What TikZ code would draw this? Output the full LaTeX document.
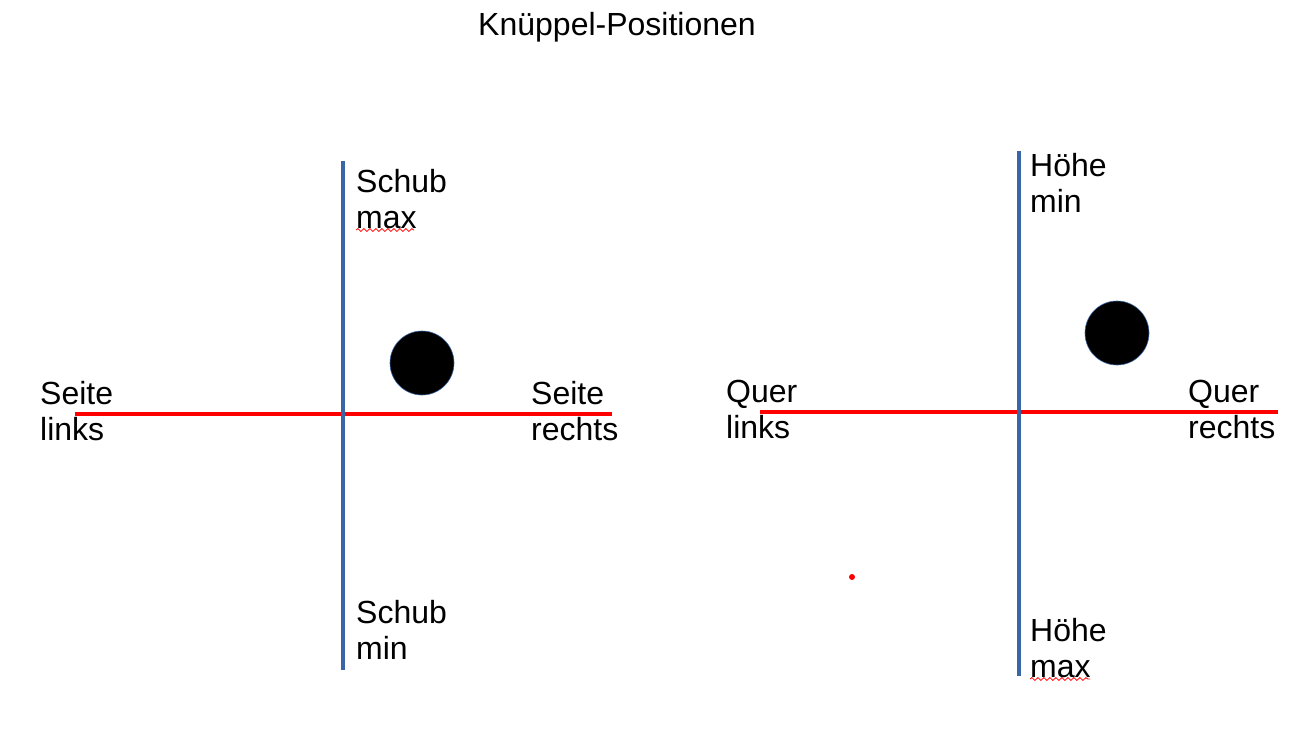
\documentclass[tikz,border=0pt]{standalone}
\usepackage{fontspec}
\setmainfont{Liberation Sans}
\usetikzlibrary{decorations.pathmorphing}
\definecolor{axisblue}{HTML}{3A66A6}
\definecolor{axisred}{HTML}{FF0000}
\tikzset{
  vaxis/.style={draw=axisblue, line width=4.5pt},
  haxis/.style={draw=axisred, line width=4pt},
  knob/.style={circle, fill=black, draw=axisblue, line width=0.6pt, minimum size=64pt, inner sep=0pt},
  lbl/.style={anchor=base west, inner sep=0pt, align=left, font=\fontsize{32}{36}\selectfont},
  spell/.style={draw=axisred, line width=0.8pt, decorate, decoration={snake, amplitude=1.4pt, segment length=6pt}}
}
\begin{document}
\begin{tikzpicture}[x=1pt,y=-1pt]
\useasboundingbox[fill=white] (0,0) rectangle (1303,747);
\node[anchor=base, inner sep=0pt, font=\fontsize{32}{36}\selectfont] (title) at (617,35) {Knüppel-Positionen};
% left stick
\coordinate (L1) at (75,414); \coordinate (L2) at (612,414);
\coordinate (L3) at (343,161); \coordinate (L4) at (343,670);
\draw[haxis] (L1) -- (L2);
\draw[vaxis] (L3) -- (L4);
\node[knob] (k1) at (422,363) {};
\node[lbl] (smax) at (356,228) {Schub\\max};
\node[lbl] (smin) at (356,659) {Schub\\min};
\node[lbl] (sl) at (40,440) {Seite\\links};
\node[lbl] (sr) at (531,440) {Seite\\rechts};
\coordinate (w1a) at (356,230); \coordinate (w1b) at (414,230);
\draw[spell] (w1a) -- (w1b);
% right stick
\coordinate (R1) at (760,412); \coordinate (R2) at (1278,412);
\coordinate (R3) at (1019,151); \coordinate (R4) at (1019,676);
\draw[haxis] (R1) -- (R2);
\draw[vaxis] (R3) -- (R4);
\node[knob] (k2) at (1117,333) {};
\node[lbl] (hmin) at (1030,212) {Höhe\\min};
\node[lbl] (hmax) at (1030,677) {Höhe\\max};
\node[lbl] (ql) at (726,438) {Quer\\links};
\node[lbl] (qr) at (1188,438) {Quer\\rechts};
\coordinate (w2a) at (1030,679); \coordinate (w2b) at (1090,679);
\draw[spell] (w2a) -- (w2b);
\node[circle, fill=axisred, inner sep=0pt, minimum size=6pt] (dot) at (852,577) {};
\end{tikzpicture}
\end{document}
